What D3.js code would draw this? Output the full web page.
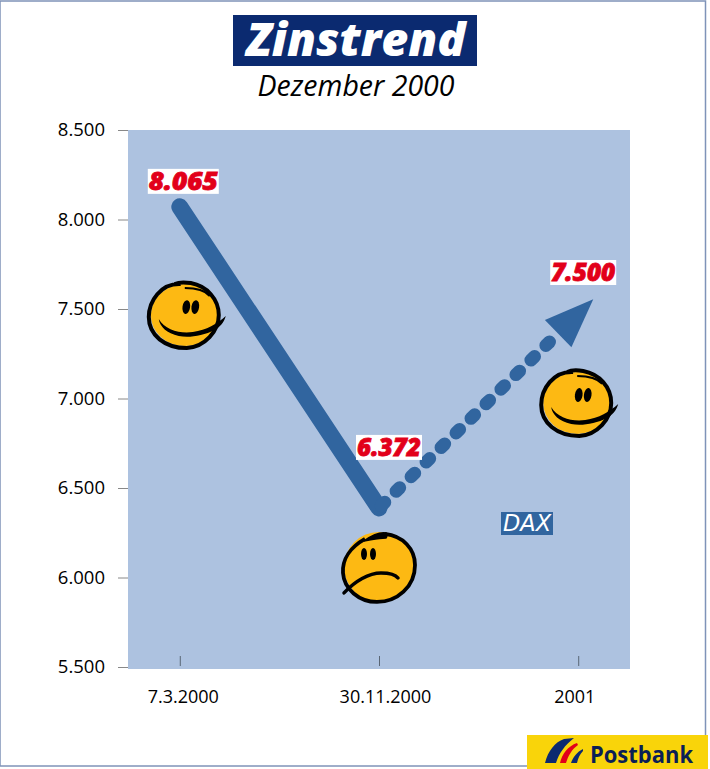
<!DOCTYPE html>
<html>
<head>
<meta charset="utf-8">
<title>Zinstrend</title>
<script src="https://cdn.jsdelivr.net/npm/d3@7"></script>
<style>
  html, body { margin: 0; padding: 0; background: #fff; }
  svg { display: block; }
  text { font-family: "Open Sans", "Noto Sans", sans-serif; }
</style>
</head>
<body>
<svg width="710" height="769"></svg>
<script>
const categories = ["7.3.2000", "30.11.2000", "2001"];
const values = [8065, 6372, 7500];
const valueLabels = ["8.065", "6.372", "7.500"];
const yTicks = [5500, 6000, 6500, 7000, 7500, 8000, 8500];
const yTickLabels = ["5.500", "6.000", "6.500", "7.000", "7.500", "8.000", "8.500"];
const smileyLevels = [7466, 6059, 6975];
const smileyMoods = ["happy", "sad", "happy"];

const blue = "#31659f";
const plotBg = "#adc2e0";
const red = "#e2001a";

const svg = d3.select("svg");

// frame round the page
svg.append("rect")
  .attr("x", 0).attr("y", 1)
  .attr("width", 705.5).attr("height", 765)
  .attr("fill", "none").attr("stroke", "#7f93b8").attr("stroke-width", 1.5);

// title
svg.append("rect")
  .attr("x", 233).attr("y", 15).attr("width", 244).attr("height", 51)
  .attr("fill", "#0b2a70");
svg.append("text")
  .text("Zinstrend")
  .attr("x", 356).attr("y", 56)
  .attr("text-anchor", "middle")
  .attr("textLength", 219).attr("lengthAdjust", "spacingAndGlyphs")
  .attr("fill", "#fff")
  .style("font-size", "46px").style("font-weight", 800).style("font-style", "italic");
svg.append("text")
  .text("Dezember 2000")
  .attr("x", 356).attr("y", 96)
  .attr("text-anchor", "middle")
  .attr("fill", "#000")
  .style("font-size", "28.5px").style("font-style", "italic");

// plot area
const plotLeft = 128, plotRight = 630, plotTop = 130, plotBottom = 669;
svg.append("rect")
  .attr("x", plotLeft).attr("y", plotTop)
  .attr("width", plotRight - plotLeft).attr("height", plotBottom - plotTop)
  .attr("fill", plotBg);

const x = d3.scalePoint().domain(categories).range([plotLeft, plotRight]).padding(0.26);
const y = d3.scaleLinear().domain([5500, 8500]).range([667, 130]);

// axes
const yAxis = svg.append("g")
  .attr("transform", `translate(${plotLeft},0)`)
  .call(d3.axisLeft(y)
    .tickValues(yTicks)
    .tickSize(10)
    .tickPadding(13)
    .tickFormat((d, i) => yTickLabels[i]));
yAxis.select(".domain").remove();
yAxis.selectAll("line").attr("stroke", "#888");
yAxis.selectAll("text").attr("fill", "#000").style("font-size", "18.5px").style("font-family", '"Open Sans", sans-serif');

const labelShift = [3, 6, -4];
const xAxis = svg.append("g")
  .attr("transform", "translate(0,666)")
  .call(d3.axisBottom(x).tickSize(-10).tickFormat(d => d));
xAxis.select(".domain").remove();
xAxis.selectAll("line").attr("stroke", "#5a6675");
xAxis.selectAll("text")
  .attr("y", 24)
  .attr("dx", (d, i) => labelShift[i])
  .attr("fill", "#000")
  .style("font-size", "18px").style("font-family", '"Open Sans", sans-serif');

// the original line sits a few pixels off its own scale
const lift = [-1, -3, 5];
const pts = categories.map((c, i) => [x(c), y(values[i]) + lift[i]]);

// solid part, 2000
svg.append("path")
  .attr("d", d3.line()([pts[0], pts[1]]))
  .attr("fill", "none").attr("stroke", blue)
  .attr("stroke-width", 17).attr("stroke-linecap", "round");

// dotted forecast part
const ang = Math.atan2(pts[2][1] - pts[1][1], pts[2][0] - pts[1][0]);
const along = d => [pts[1][0] + Math.cos(ang) * d, pts[1][1] + Math.sin(ang) * d];
const across = (p, d) => [p[0] - Math.sin(ang) * d, p[1] + Math.cos(ang) * d];
const len = Math.hypot(pts[2][0] - pts[1][0], pts[2][1] - pts[1][1]);

svg.append("path")
  .attr("d", d3.line()([along(3), along(len - 36)]))
  .attr("fill", "none").attr("stroke", blue)
  .attr("stroke-width", 13).attr("stroke-linecap", "round")
  .attr("stroke-dasharray", "5 15.9");

const tip = along(len + 21);
const base = along(len - 28);
svg.append("path")
  .attr("d", d3.line()([tip, across(base, 19), across(base, -19)]) + "Z")
  .attr("fill", blue);

// value boxes
const boxOffsets = [[-32, -39], [-23, -76], [-28, -49]];
valueLabels.forEach((label, i) => {
  const w = i === 0 ? 71 : 66;
  const g = svg.append("g")
    .attr("transform", `translate(${x(categories[i]) + boxOffsets[i][0]},${y(values[i]) + boxOffsets[i][1]})`);
  g.append("rect")
    .attr("width", w).attr("height", 25)
    .attr("fill", "#fff");
  g.append("text")
    .text(label)
    .attr("x", w / 2).attr("y", 21)
    .attr("text-anchor", "middle")
    .attr("textLength", w - 2).attr("lengthAdjust", "spacingAndGlyphs")
    .attr("fill", red).attr("stroke", red).attr("stroke-width", 0.8)
    .style("font-size", "25px").style("font-weight", 800).style("font-style", "italic");
});

// series label
svg.append("rect")
  .attr("x", 501).attr("y", 512).attr("width", 52).attr("height", 23)
  .attr("fill", blue);
svg.append("text")
  .text("DAX")
  .attr("x", 527).attr("y", 531)
  .attr("text-anchor", "middle")
  .attr("fill", "#fff")
  .style("font-family", '"DejaVu Sans", sans-serif')
  .style("font-size", "22.5px").style("font-style", "italic");

// smileys, hand drawn look
function happyFace(g) {
  g.append("ellipse").attr("rx", 34).attr("ry", 31).attr("fill", "#fdb913");
  g.append("path")
    .attr("d", "M -4 -31 C -24 -32 -36 -14 -36 2 C -36 20 -20 33 2 33 C 20 32 34 16 34 0 C 34 -16 22 -29 6 -32 C 0 -33 -6 -33 -10 -31")
    .attr("fill", "none").attr("stroke", "#000").attr("stroke-width", 4);
  g.append("path")
    .attr("d", "M -26 4 C -20 15 -4 19 8 17 C 22 15 32 9 41 1 C 39 8 35 12 30 15 C 18 21 4 23 -6 21 C -18 18 -25 12 -26 4 Z")
    .attr("fill", "#000");
  g.append("path")
    .attr("d", "M 0 -27 C 10 -27 20 -25 25 -19")
    .attr("fill", "none").attr("stroke", "#000").attr("stroke-width", 2);
  [[1.5, -8], [10.5, -8]].forEach(e => {
    g.append("ellipse")
      .attr("cx", e[0]).attr("cy", e[1]).attr("rx", 3.8).attr("ry", 7)
      .attr("transform", `rotate(8 ${e[0]} ${e[1]})`)
      .attr("fill", "#000");
  });
}

function sadFace(g) {
  g.append("circle").attr("r", 35).attr("fill", "#fdb913");
  g.append("path")
    .attr("d", "M -14 -28 C -28 -20 -37 -8 -36 6 C -35 22 -20 35 -2 35 C 18 35 36 20 36 -2 C 36 -18 24 -31 6 -33")
    .attr("fill", "none").attr("stroke", "#000").attr("stroke-width", 3.8);
  g.append("path")
    .attr("d", "M -15 -26 C -8 -31 0 -35 7 -34 C 8 -32 8 -30 7 -29 C -1 -29 -8 -27 -15 -26 Z")
    .attr("fill", "#000").attr("stroke", "#000").attr("stroke-width", 1.5);
  g.append("path")
    .attr("d", "M -35 26 C -24 14 -10 6 2 6 C 10 6 16 7 19 11")
    .attr("fill", "none").attr("stroke", "#000").attr("stroke-width", 3.5).attr("stroke-linecap", "round");
  [[-15, -13], [-6, -13]].forEach(e => {
    g.append("ellipse")
      .attr("cx", e[0]).attr("cy", e[1]).attr("rx", 3).attr("ry", 6)
      .attr("fill", "#000");
  });
}

const faceShift = [5, 0, -1];
smileyMoods.forEach((mood, i) => {
  const g = svg.append("g")
    .attr("transform", `translate(${x(categories[i]) + faceShift[i]},${y(smileyLevels[i])})`);
  if (mood === "happy") happyFace(g); else sadFace(g);
});

// logo
svg.append("rect")
  .attr("x", 527).attr("y", 735).attr("width", 181).attr("height", 34)
  .attr("fill", "#f9d40a");
const logo = svg.append("g").attr("transform", "translate(544,737)");
logo.append("path").attr("d", "M 1 26 C 4 14 11 5 20 2 L 30 1 C 21 8 15 16 12 26 Z").attr("fill", "#0b2a70");
logo.append("path").attr("d", "M 16 26 C 18 17 24 9 33 6 L 34 8 C 28 12 24 19 22 26 Z").attr("fill", red);
logo.append("path").attr("d", "M 27 26 C 29 20 33 15 39 12 L 39 14 C 36 17 34 21 33 26 Z").attr("fill", "#0b2a70");
svg.append("text")
  .text("Postbank")
  .attr("x", 590).attr("y", 763)
  .attr("textLength", 103).attr("lengthAdjust", "spacingAndGlyphs")
  .attr("fill", "#0b1f55")
  .style("font-size", "23px").style("font-weight", 700);
</script>
</body>
</html>
